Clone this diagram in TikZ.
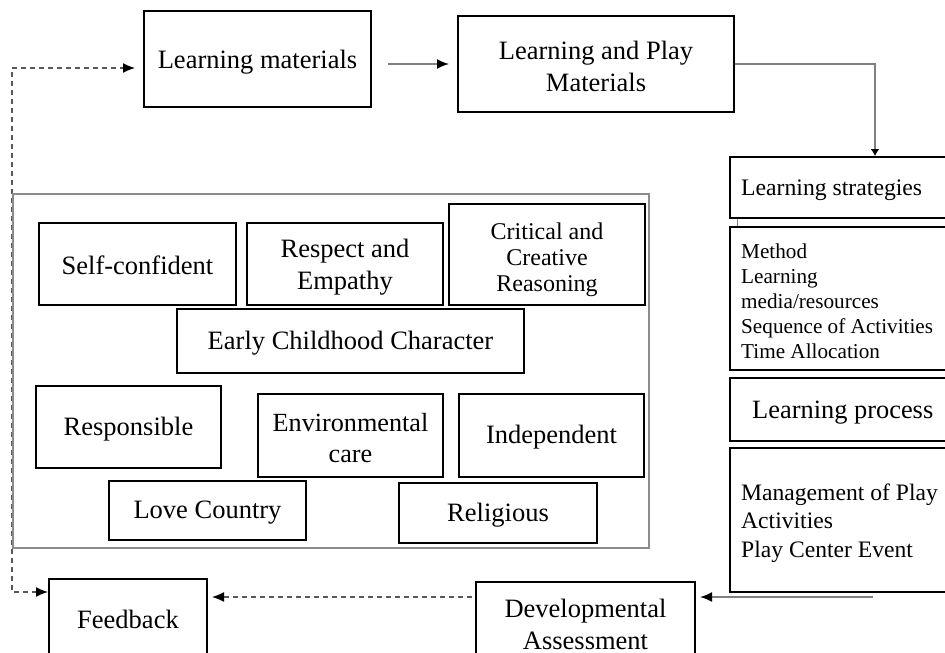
\documentclass[tikz,border=0pt]{standalone}
\usepackage{fontspec}
\setmainfont{Liberation Serif}
\usetikzlibrary{arrows.meta,calc}
\newcommand{\mainf}{\fontsize{26.5}{32}\selectfont}
% name, cx, cy, w, h, font, text, text shift
\newcommand{\mybox}[8]{%
  \node[frame, minimum width=#4pt, minimum height=#5pt] (#1) at (#2,#3) {};
  \node[txt, font=#6] (#1-t) at (#2,#3+#8) {#7};}
% name, cy, h, text x, font, text
\newcommand{\myrbox}[6]{%
  \node[frame, minimum width=290pt, minimum height=#3pt] (#1) at (875,#2) {};
  \node[txt, align=left, anchor=west, font=#5] (#1-t) at (#4,#2+3) {#6};}
\begin{document}
\begin{tikzpicture}[x=1pt,y=-1pt,
  frame/.style={draw, line width=2pt, inner sep=0pt},
  txt/.style={align=center, inner sep=0pt},
  blackhead/.style={-{Latex[length=12pt,width=10pt,color=black]}},
  arr/.style={draw=black!50, line width=1.8pt, blackhead},
  dsh/.style={draw=black!65, line width=1.4pt, dash pattern=on 5pt off 4pt},
  panel/.style={draw=black!45, line width=1.8pt}
]
\clip (0,0) rectangle (945,653);
\fill[white] (0,0) rectangle (945,653);

% top row
\mybox{lm}{257.5}{59}{227}{96}{\mainf}{Learning materials}{3}
\mybox{lp}{596}{64}{276}{96}{\mainf}{Learning and Play\\Materials}{2}

% character boxes
\mybox{self}{137.5}{264}{197}{82}{\mainf}{Self-confident}{1}
\mybox{resp}{345}{264}{196}{82}{\mainf}{Respect and\\Empathy}{3}
\mybox{crit}{547}{254.5}{196}{101}{\fontsize{24}{26}\selectfont}{Critical and\\Creative\\Reasoning}{5}
\mybox{early}{350.5}{341}{347}{64}{\mainf}{Early Childhood Character}{2}
\mybox{respo}{128.5}{427}{185}{82}{\mainf}{Responsible}{2}
\mybox{env}{350.5}{435.5}{185}{83}{\fontsize{26.2}{31}\selectfont}{Environmental\\care}{3}
\mybox{indep}{551.5}{435.5}{185}{83}{\mainf}{Independent}{2}
\mybox{love}{207.5}{510.5}{197}{59}{\mainf}{Love Country}{2}
\mybox{relig}{498}{513}{198}{60}{\mainf}{Religious}{2}

% right column
\myrbox{ls}{187.5}{61}{741}{\fontsize{23.7}{28}\selectfont}{Learning strategies}
\myrbox{md}{298.5}{143}{741}{\fontsize{21.2}{25}\selectfont}{Method\\Learning\\media/resources\\Sequence of Activities\\Time Allocation}
\myrbox{lpr}{409.5}{63}{752}{\fontsize{26.4}{31}\selectfont}{Learning process}
\myrbox{mg}{520}{144}{741}{\fontsize{23.6}{28.5}\selectfont}{Management of Play\\Activities\\Play Center Event}

% bottom row
\mybox{dev}{585.5}{625}{219}{86}{\mainf}{Developmental\\Assessment}{-1}
\mybox{fb}{128}{619}{158}{80}{\mainf}{Feedback}{0}

% coordinates for connector corners / free ends
\coordinate (dA) at (12,68);
\coordinate (dB) at (12,592);
\coordinate (mgOut) at (873,597);

% connectors
\draw[arr, shorten <=16pt, shorten >=8pt] (lm.east |- lp.west) -- (lp.west);
\draw[draw=black!50, line width=1.8pt, -{Latex[length=7pt,width=9pt,color=black]}] (lp.east) -| (ls.north);
\draw[draw=black!50, line width=1pt] ([xshift=8pt]ls.south west) -- ([xshift=8pt]md.north west);
\draw[arr, shorten >=4pt] (mgOut) -- (mgOut -| dev.east);
\draw[dsh, blackhead, shorten <=3pt, shorten >=4pt] (mgOut -| dev.west) -- (mgOut -| fb.east);
\draw[dsh, {Latex[length=12pt,width=10pt,color=black]}-{Latex[length=12pt,width=10pt,color=black]}, shorten >=8pt]
  (dB -| fb.west) -- (dB) -- (dA) -- (dA -| lm.west);

% character panel
\draw[panel] (12.6,194) rectangle (649,548);
\end{tikzpicture}
\end{document}
